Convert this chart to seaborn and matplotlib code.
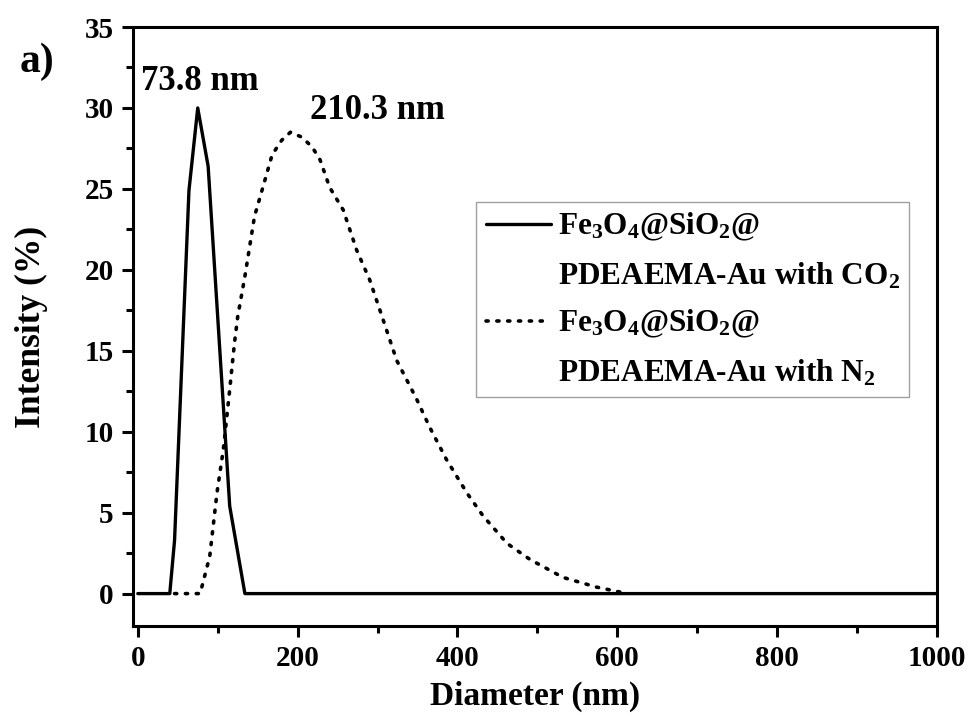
import numpy as np
import pandas as pd
import seaborn as sns
import matplotlib.pyplot as plt
from matplotlib.lines import Line2D

# DLS size distributions
co2_diam = [0, 40, 46, 64, 75, 88, 115, 134, 1000]
co2_int = [0, 0, 3.3, 24.9, 30.0, 26.4, 5.4, 0, 0]

n2_diam = [46, 78, 90, 99, 107, 115, 121, 125, 134, 146, 160, 168, 180, 191, 205,
           218, 228, 240, 257, 274, 290, 303, 324, 349, 365, 386, 412, 432, 462,
           491, 532, 574, 603, 612]
n2_int = [0, 0, 2.3, 6.2, 8.9, 12.6, 15.5, 17.1, 19.6, 23.3, 25.7, 27.1, 28.0, 28.5, 28.2,
          27.6, 26.8, 25.1, 23.7, 21.2, 19.4, 17.5, 14.4, 12.0, 10.3, 8.3, 6.2, 4.8, 3.1,
          2.1, 1.0, 0.4, 0.1, 0]

peak_labels = ["73.8 nm", "210.3 nm"]
label_co2 = ["Fe$_3$O$_4$@SiO$_2$@", "PDEAEMA-Au with CO$_2$"]
label_n2 = ["Fe$_3$O$_4$@SiO$_2$@", "PDEAEMA-Au with N$_2$"]

sns.set_style("ticks")
plt.rcParams['font.family'] = ['Liberation Serif', 'DejaVu Serif']
plt.rcParams['font.weight'] = 'bold'
plt.rcParams['mathtext.fontset'] = 'custom'
plt.rcParams['mathtext.rm'] = 'Liberation Serif:bold'
plt.rcParams['mathtext.it'] = 'Liberation Serif:bold'
plt.rcParams['mathtext.bf'] = 'Liberation Serif:bold'
for k in ['text.color', 'axes.labelcolor', 'xtick.color', 'ytick.color', 'axes.edgecolor']:
    plt.rcParams[k] = 'black'

fig = plt.figure(figsize=(9.73, 7.2), dpi=100)
ax = fig.add_axes([0.1367, 0.1306, 0.8263, 0.8319])

df1 = pd.DataFrame({"d": co2_diam, "i": co2_int})
df2 = pd.DataFrame({"d": n2_diam, "i": n2_int})
sns.lineplot(data=df2, x="d", y="i", ax=ax, color="black", lw=2.6,
             linestyle=(0, (0.6, 2.4)), dash_capstyle="round", sort=False)
sns.lineplot(data=df1, x="d", y="i", ax=ax, color="black", lw=2.4, sort=False)

ax.set_xlim(-6, 1000)
ax.set_ylim(-2, 35)
ax.set_xticks(np.arange(0, 1001, 200))
ax.set_xticks(np.arange(100, 1000, 200), minor=True)
ax.set_yticks(np.arange(0, 36, 5))
ax.set_yticks(np.arange(2.5, 35, 5), minor=True)
ax.tick_params(which='major', direction='out', length=8, width=2.2, labelsize=21, pad=6)
ax.tick_params(which='minor', direction='out', length=5, width=2.2)
for s in ax.spines.values():
    s.set_linewidth(2.2)

ax.set_xlabel("Diameter (nm)", fontsize=24, fontweight='bold', labelpad=6)
ax.set_ylabel("Intensity (%)", fontsize=25.5, fontweight='bold', labelpad=26)

ax.text(78, 31.1, peak_labels[0], fontsize=25, fontweight='bold', ha='center', va='baseline')
ax.text(300, 29.3, peak_labels[1], fontsize=25, fontweight='bold', ha='center', va='baseline')
fig.text(0.02, 0.90, "a)", fontsize=30, fontweight='bold')

blank = Line2D([], [], color='none')
handles = [Line2D([], [], color='black', lw=2.4), blank,
           Line2D([], [], color='black', lw=2.6, linestyle=(0, (0.6, 2.4)), dash_capstyle='round'), blank]
labels = [label_co2[0], label_co2[1], label_n2[0], label_n2[1]]
leg = ax.legend(handles, labels, loc='upper left', bbox_to_anchor=(0.427, 0.708),
                fontsize=22.5, frameon=True, fancybox=False, edgecolor='#888888',
                handlelength=2.1, handletextpad=0.2, labelspacing=0.55, borderpad=0.3,
                borderaxespad=0)
leg.get_frame().set_linewidth(1.0)

fig.savefig("out.png", dpi=100)
